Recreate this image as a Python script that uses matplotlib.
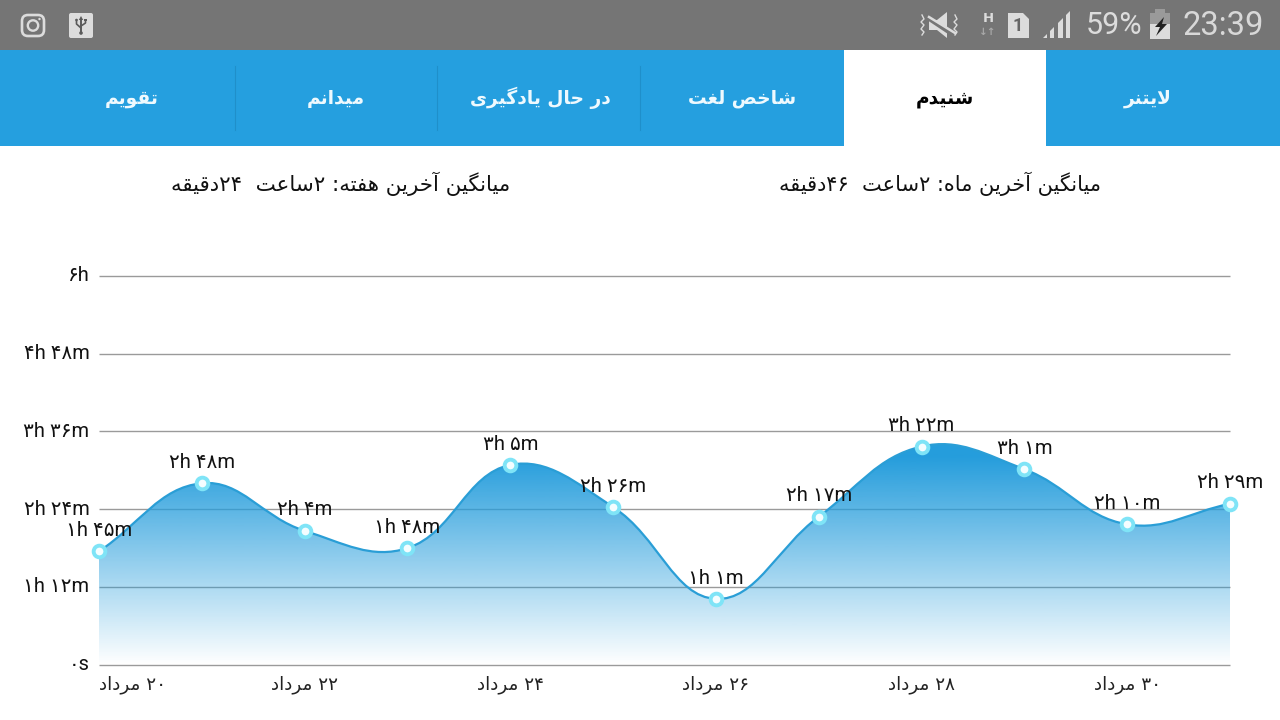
import numpy as np
import matplotlib
matplotlib.use('Agg')
import matplotlib.pyplot as plt
import matplotlib.transforms as mtrans
from matplotlib.path import Path
from matplotlib.patches import PathPatch, Rectangle, FancyBboxPatch, Circle, Polygon

# Values of the chart (minutes per day)
minutes = [105, 168, 124, 108, 185, 146, 61, 137, 202, 181, 130, 149]
point_labels = ['۱h ۴۵m', '۲h ۴۸m', '۲h ۴m', '۱h ۴۸m', '۳h ۵m', '۲h ۲۶m',
                '۱h ۱m', '۲h ۱۷m', '۳h ۲۲m', '۳h ۱m', '۲h ۱۰m', '۲h ۲۹m']
y_ticks = [0, 72, 144, 216, 288, 360]
y_tick_labels = ['۰s', '۱h ۱۲m', '۲h ۲۴m', '۳h ۳۶m', '۴h ۴۸m', '۶h']
x_ticks = [0, 2, 4, 6, 8, 10]
x_tick_labels = ['۲۰ مرداد', '۲۲ مرداد', '۲۴ مرداد', '۲۶ مرداد', '۲۸ مرداد', '۳۰ مرداد']
tabs = ['لایتنر', 'شنیدم', 'شاخص لغت', 'در حال یادگیری', 'میدانم', 'تقویم']
avg_month = 'میانگین آخرین ماه: ۲ساعت  ۴۶دقیقه'
avg_week = 'میانگین آخرین هفته: ۲ساعت  ۲۴دقیقه'

# Presentation forms: isolated, final, initial, medial
FORMS = {
    'ا': 'ﺍﺎ', 'آ': 'ﺁﺂ', 'د': 'ﺩﺪ', 'ر': 'ﺭﺮ', 'و': 'ﻭﻮ',
    'ب': 'ﺏﺐﺑﺒ', 'پ': '\ufb56\ufb57\ufb58\ufb59', 'ت': 'ﺕﺖﺗﺘ',
    'ح': 'ﺡﺢﺣﺤ', 'خ': 'ﺥﺦﺧﺨ', 'س': 'ﺱﺲﺳﺴ', 'ش': 'ﺵﺶﺷﺸ',
    'ص': 'ﺹﺺﺻﺼ', 'ع': 'ﻉﻊﻋﻌ', 'غ': 'ﻍﻎﻏﻐ', 'ف': 'ﻑﻒﻓﻔ',
    'ق': 'ﻕﻖﻗﻘ', 'ک': '\ufb8e\ufb8f\ufb90\ufb91', 'گ': '\ufb92\ufb93\ufb94\ufb95',
    'ل': 'ﻝﻞﻟﻠ', 'م': 'ﻡﻢﻣﻤ', 'ن': 'ﻥﻦﻧﻨ', 'ه': 'ﻩﻪﻫﻬ',
    'ی': '\ufbfc\ufbfd\ufbfe\ufbff',
}


def fa(text):
    # matplotlib has no shaping or bidi, so join the letters and flip the line
    out = []
    i = 0
    while i < len(text):
        c = text[i]
        if c not in FORMS:
            out.append(c)
            i += 1
            continue
        prev = text[i - 1] if i > 0 else ''
        joins_prev = prev in FORMS and len(FORMS[prev]) == 4
        if c == 'ل' and text[i + 1:i + 2] == 'ا':
            out.append('\ufefc' if joins_prev else '\ufefb')
            i += 2
            continue
        nxt = text[i + 1] if i + 1 < len(text) else ''
        joins_next = len(FORMS[c]) == 4 and nxt in FORMS
        if joins_prev and joins_next:
            out.append(FORMS[c][3])
        elif joins_next:
            out.append(FORMS[c][2])
        elif joins_prev:
            out.append(FORMS[c][1])
        else:
            out.append(FORMS[c][0])
        i += 1
    # reverse for display but leave digit runs in reading order
    res = []
    run = ''
    for c in reversed(out):
        if '۰' <= c <= '۹':
            run = c + run
        else:
            res.append(run)
            run = ''
            res.append(c)
    res.append(run)
    return ''.join(res)


FONT = ['Roboto', 'DejaVu Sans']
BLUE = '#259fdf'
W, H = 1280, 720

fig = plt.figure(figsize=(12.8, 7.2), dpi=100, facecolor='white')

# Screen furniture is drawn in pixel coordinates
ui = fig.add_axes([0, 0, 1, 1])
ui.set_xlim(0, W)
ui.set_ylim(H, 0)
ui.axis('off')
ui.add_patch(Rectangle((0, 0), W, 50, color='#757575', lw=0))
ui.add_patch(Rectangle((0, 50), W, 96, color=BLUE, lw=0))
ui.add_patch(Rectangle((844, 50), 202, 100, color='white', lw=0))
for x in [235, 437, 640]:
    ui.plot([x, x], [66, 130], color='#1f8fca', lw=0.8)

tab_x = [1148, 945, 742, 540, 336, 132]
for k, (label, x) in enumerate(zip(tabs, tab_x)):
    ui.text(x, 98, fa(label), ha='center', va='center', fontsize=13.4, fontweight='bold',
            color='black' if k == 1 else '#eef9fe', family='DejaVu Sans')
ui.text(940, 184, fa(avg_month), ha='center', va='center', fontsize=15, color='#111111', family='DejaVu Sans')
ui.text(340.5, 184, fa(avg_week), ha='center', va='center', fontsize=15.4, color='#111111', family='DejaVu Sans')

# Status bar, left side
ICON = '#dcdcdc'
ui.add_patch(FancyBboxPatch((22, 15), 22, 21, boxstyle='round,pad=0,rounding_size=6', fc='none', ec=ICON, lw=1.9))
ui.add_patch(Circle((33, 25.5), 5.2, fc='none', ec=ICON, lw=1.7))
ui.add_patch(Circle((39.5, 19), 1.2, fc=ICON, ec='none'))
ui.add_patch(FancyBboxPatch((69, 13), 24, 25, boxstyle='round,pad=0,rounding_size=2', fc=ICON, ec='none'))
ui.add_patch(Polygon([[81, 16], [78.8, 20], [83.2, 20]], fc='#5a5a5a', ec='none'))
ui.plot([81, 81], [19, 33], color='#5a5a5a', lw=1.4)
ui.add_patch(Circle((81, 33), 1.8, fc='#5a5a5a', ec='none'))
ui.plot([76.5, 76.5, 81], [20, 24, 28], color='#5a5a5a', lw=1.2)
ui.plot([85.5, 85.5, 81], [20, 23, 26], color='#5a5a5a', lw=1.2)
ui.add_patch(Circle((76.5, 20), 1.3, fc='#5a5a5a', ec='none'))
ui.add_patch(Rectangle((84.2, 18.5), 2.6, 2.6, fc='#5a5a5a', ec='none'))

# Status bar, right side
ui.add_patch(Polygon([[929, 20], [937, 20], [947, 12], [947, 38], [937, 30], [929, 30]], fc=ICON, ec='none'))
ui.plot([928, 955], [18, 36], color='#757575', lw=3.2)
ui.plot([929, 955], [17, 33], color=ICON, lw=1.8)
for x in [920, 953]:
    ui.plot([x + 2, x + 4, x + 1, x + 4, x + 1, x + 4, x + 2], [15, 19, 22, 25, 29, 32, 35], color=ICON, lw=1)
ui.text(988, 19, 'H', ha='center', va='center', fontsize=9.5, fontweight='bold', color=ICON, family='DejaVu Sans')
ui.text(988, 32, '↓↑', ha='center', va='center', fontsize=7.5, fontweight='bold', color='#a8a8a8', family='DejaVu Sans')
ui.add_patch(Polygon([[1008, 13], [1023, 13], [1029, 19], [1029, 38], [1008, 38]], fc=ICON, ec='none'))
ui.text(1018, 26, '1', ha='center', va='center', fontsize=13, fontweight='bold', color='#666666', family='Roboto')
for x0, x1 in [(1043, 1047), (1050, 1054), (1058, 1063), (1066, 1070)]:
    ui.add_patch(Polygon([[x0, 38], [x0, 38 - (x0 - 1043)], [x1, 38 - (x1 - 1043)], [x1, 38]], fc=ICON, ec='none'))
ui.text(1114.5, 26, '59%', ha='center', va='center', fontsize=22, color=ICON, family='Roboto')
ui.add_patch(Rectangle((1150, 13), 20, 26, fc=ICON, ec='none'))
ui.add_patch(Rectangle((1150, 13), 20, 11, fc='#9a9a9a', ec='none'))
ui.add_patch(Rectangle((1155, 9), 10, 4, fc='#9a9a9a', ec='none'))
ui.add_patch(Polygon([[1164, 17], [1155, 27], [1160, 27], [1156, 36], [1167, 24], [1162, 24]], fc='#222222', ec='none'))
ui.text(1223.5, 26, '23:39', ha='center', va='center', fontsize=23.5, color='#d8d8d8', family='Roboto')

# Chart
ax = fig.add_axes([99 / W, 1 - 664.8 / H, (1230 - 99) / W, (664.8 - 275.8) / H])
ax.patch.set_alpha(0)
ax.set_xlim(0, 11)
ax.set_ylim(0, 360)
for s in ax.spines.values():
    s.set_visible(False)
ax.grid(True, axis='y', color='#9a9a9a', lw=1, zorder=1)
ax.set_axisbelow(True)
ax.set_yticks(y_ticks)
ax.set_yticklabels(y_tick_labels, family=FONT, fontsize=14.4, color='#111111')
ax.set_xticks(x_ticks)
ax.set_xticklabels([fa(t) for t in x_tick_labels], family='DejaVu Sans', fontsize=13.2, color='#222222')
ax.tick_params(length=0)
ax.tick_params(axis='y', pad=7)
ax.tick_params(axis='x', pad=8)
ax.get_xticklabels()[0].set_ha('left')
for g in ax.get_ygridlines():
    g.set_clip_on(False)
    g.set_solid_capstyle('butt')
up = mtrans.ScaledTranslation(0, 2 / 100, fig.dpi_scale_trans)
for lab in ax.get_yticklabels():
    lab.set_transform(lab.get_transform() + up)

# Bezier spline through the points, tension taken in screen space
sx, sy = (1230 - 99) / 11, (665 - 276) / 360
px = np.arange(len(minutes)) * sx
py = np.array(minutes) * sy
tension = 0.4
verts = [(0, minutes[0])]
codes = [Path.MOVETO]
for i in range(len(minutes) - 1):
    a = max(i - 1, 0)
    b = i + 1
    c = min(i + 2, len(minutes) - 1)
    d0 = np.hypot(px[i] - px[a], py[i] - py[a])
    d1 = np.hypot(px[b] - px[i], py[b] - py[i])
    d2 = np.hypot(px[c] - px[b], py[c] - py[b])
    f1 = tension * d1 / (d0 + d1)
    f2 = tension * d1 / (d1 + d2)
    c1 = (px[i] + f1 * (px[b] - px[a]), py[i] + f1 * (py[b] - py[a]))
    c2 = (px[b] - f2 * (px[c] - px[i]), py[b] - f2 * (py[c] - py[i]))
    verts += [(c1[0] / sx, c1[1] / sy), (c2[0] / sx, c2[1] / sy), (i + 1, minutes[i + 1])]
    codes += [Path.CURVE4] * 3

line_path = Path(verts, codes)
fill_path = Path(verts + [(11, 0), (0, 0), (0, minutes[0])],
                 codes + [Path.LINETO, Path.LINETO, Path.CLOSEPOLY])

# Gradient: solid near the peaks, fades out at the base line
grad = np.zeros((256, 1, 4))
grad[..., 0] = 0x25 / 255
grad[..., 1] = 0x9d / 255
grad[..., 2] = 0xdc / 255
grad[:, 0, 3] = np.clip(np.linspace(207, 0, 256) / 192, 0, 1)
im = ax.imshow(grad, extent=(0, 11, 0, 207), aspect='auto', origin='upper', zorder=2, interpolation='bilinear')
im.set_clip_path(PathPatch(fill_path, transform=ax.transData))
ax.set_xlim(0, 11)
ax.set_ylim(0, 360)

ax.add_patch(PathPatch(line_path, fc='none', ec='#2a9ed6', lw=1.6, zorder=3, clip_on=False))
ax.plot(range(len(minutes)), minutes, ls='none', marker='o', ms=8.4, mfc='#f4fdff',
        mec='#7fe4f7', mew=2.8, zorder=4, clip_on=False)
for i, (v, label) in enumerate(zip(minutes, point_labels)):
    ax.annotate(label, (i, v), xytext=(0, 15), textcoords='offset points', ha='center', va='center',
                family=FONT, fontsize=14.5, color='#111111', zorder=5, annotation_clip=False)

fig.savefig('out.png', dpi=100)
